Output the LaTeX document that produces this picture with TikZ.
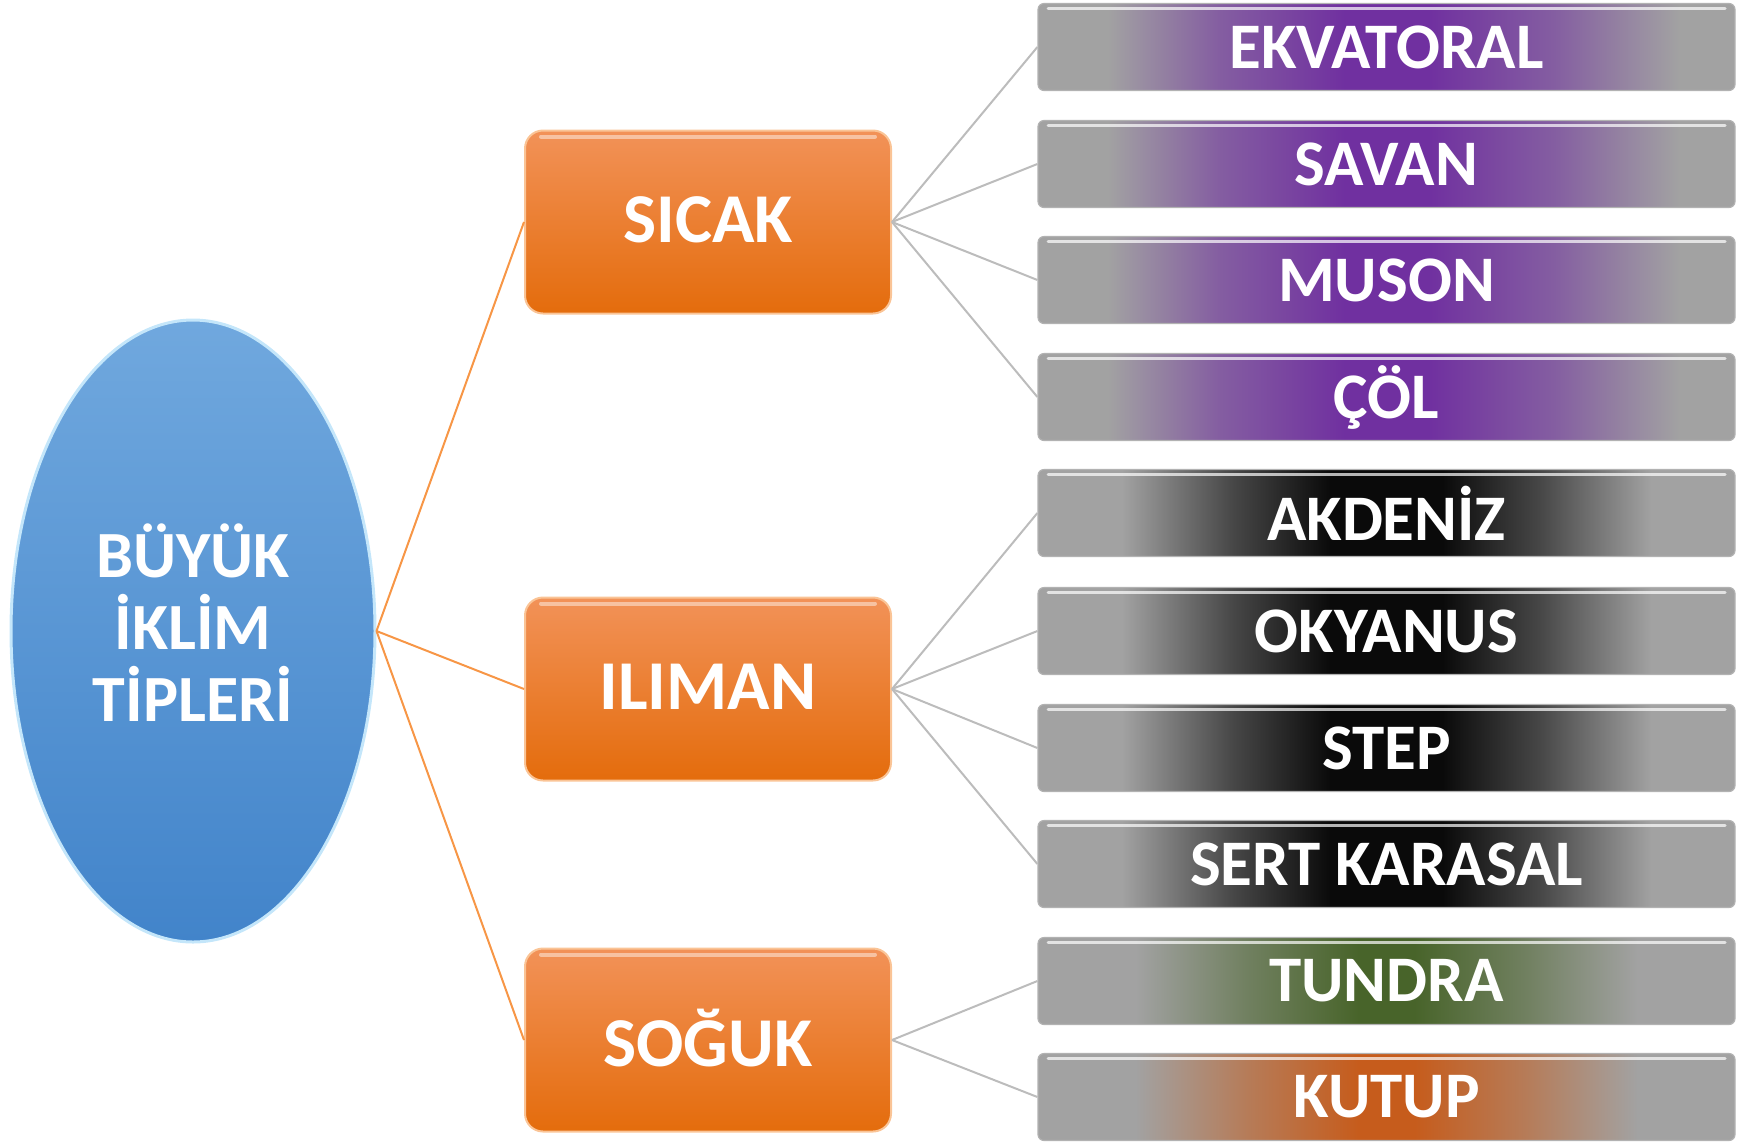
\documentclass[tikz,border=0pt]{standalone}
\usepackage{fontspec}
\setmainfont{Carlito}
\usetikzlibrary{shapes.geometric}

\definecolor{bargray}{RGB}{162,162,162}
\definecolor{hotpurple}{RGB}{112,48,160}
\definecolor{mildblack}{RGB}{10,10,10}
\definecolor{coldgreen}{RGB}{72,100,42}
\definecolor{polarorange}{RGB}{198,92,28}
\definecolor{boxtop}{RGB}{242,146,88}
\definecolor{boxbottom}{RGB}{228,108,12}
\definecolor{boxedge}{RGB}{250,196,150}
\definecolor{ovaltop}{RGB}{112,168,222}
\definecolor{ovalbottom}{RGB}{66,132,202}
\definecolor{ovaledge}{RGB}{196,230,250}
\definecolor{linkorange}{RGB}{247,150,70}
\definecolor{linkgray}{RGB}{188,188,188}

% bar shadings, grey at the ends and coloured in the middle
\colorlet{purplemix}{hotpurple!60!bargray}
\colorlet{blackmix}{mildblack!60!bargray}
\colorlet{greenmix}{coldgreen!55!bargray}
\colorlet{orangemix}{polarorange!55!bargray}
\pgfdeclarehorizontalshading{purplebar}{100bp}{color(0bp)=(bargray); color(30bp)=(bargray); color(38bp)=(purplemix); color(47bp)=(hotpurple); color(53bp)=(hotpurple); color(62bp)=(purplemix); color(71bp)=(bargray); color(100bp)=(bargray)}
\pgfdeclarehorizontalshading{blackbar}{100bp}{color(0bp)=(bargray); color(31bp)=(bargray); color(39bp)=(blackmix); color(46bp)=(mildblack); color(54bp)=(mildblack); color(61bp)=(blackmix); color(69bp)=(bargray); color(100bp)=(bargray)}
\pgfdeclarehorizontalshading{greenbar}{100bp}{color(0bp)=(bargray); color(32bp)=(bargray); color(40bp)=(greenmix); color(48bp)=(coldgreen); color(52bp)=(coldgreen); color(60bp)=(greenmix); color(68bp)=(bargray); color(100bp)=(bargray)}
\pgfdeclarehorizontalshading{orangebar}{100bp}{color(0bp)=(bargray); color(32bp)=(bargray); color(40bp)=(orangemix); color(48bp)=(polarorange); color(52bp)=(polarorange); color(60bp)=(orangemix); color(68bp)=(bargray); color(100bp)=(bargray)}

\begin{document}
\begin{tikzpicture}[x=0.5pt, y=-0.5pt,
  mainoval/.style = {ellipse, draw=ovaledge, line width=1.5pt, top color=ovaltop, bottom color=ovalbottom,
    minimum width=182pt, minimum height=311pt, inner sep=0pt, text=white, align=center, text depth=8pt,
    font=\bfseries\fontsize{33pt}{36pt}\selectfont},
  groupbox/.style = {rectangle, rounded corners=9pt, draw=boxedge, line width=1pt, top color=boxtop, bottom color=boxbottom,
    minimum width=183pt, minimum height=91.5pt, inner sep=0pt, text=white, text depth=2pt,
    font=\bfseries\fontsize{35pt}{40pt}\selectfont,
    path picture={\draw[white, line width=2pt, opacity=.45, line cap=round]
      ([xshift=8pt,yshift=-3pt]path picture bounding box.north west) -- ([xshift=-8pt,yshift=-3pt]path picture bounding box.north east);}},
  typebar/.style = {rectangle, rounded corners=3pt, draw=gray!60, line width=0.6pt, shade, shading=#1,
    minimum width=348.5pt, minimum height=43.5pt, inner sep=0pt, text=white,
    font=\bfseries\fontsize{32.5pt}{38pt}\selectfont,
    path picture={\draw[white, line width=1.5pt, opacity=.7, line cap=round]
      ([xshift=5pt,yshift=-2.5pt]path picture bounding box.north west) -- ([xshift=-5pt,yshift=-2.5pt]path picture bounding box.north east);}},
  orangelink/.style = {draw=linkorange, line width=1pt},
  graylink/.style = {draw=linkgray, line width=1pt}]
\pgfmathsetmacro{\boxx}{708} % centre of the orange boxes
\pgfmathsetmacro{\barx}{1386.5} % centre of the bars
\useasboundingbox (0,0) rectangle (1750,1142);

\node[mainoval] (climate) at (193,631) {BÜYÜK\\İKLİM\\TİPLERİ};

\node[groupbox] (hot) at (\boxx,222) {SICAK};
\node[groupbox] (mild) at (\boxx,689) {ILIMAN};
\node[groupbox] (cold) at (\boxx,1040) {SOĞUK};

\node[typebar=purplebar] (equatorial) at (\barx,47) {EKVATORAL};
\node[typebar=purplebar] (savanna) at (\barx,164) {SAVAN};
\node[typebar=purplebar] (monsoon) at (\barx,280) {MUSON};
\node[typebar=purplebar] (desert) at (\barx,397) {ÇÖL};
\node[typebar=blackbar] (mediterranean) at (\barx,513) {AKDENİZ};
\node[typebar=blackbar] (oceanic) at (\barx,631) {OKYANUS};
\node[typebar=blackbar] (steppe) at (\barx,748) {STEP};
\node[typebar=blackbar] (continental) at (\barx,864) {SERT KARASAL};
\node[typebar=greenbar] (tundra) at (\barx,981) {TUNDRA};
\node[typebar=orangebar] (polar) at (\barx,1097) {KUTUP};

\draw[orangelink] (climate.east) -- (hot.west);
\draw[orangelink] (climate.east) -- (mild.west);
\draw[orangelink] (climate.east) -- (cold.west);

\draw[graylink] (hot.east) -- (equatorial.west);
\draw[graylink] (hot.east) -- (savanna.west);
\draw[graylink] (hot.east) -- (monsoon.west);
\draw[graylink] (hot.east) -- (desert.west);
\draw[graylink] (mild.east) -- (mediterranean.west);
\draw[graylink] (mild.east) -- (oceanic.west);
\draw[graylink] (mild.east) -- (steppe.west);
\draw[graylink] (mild.east) -- (continental.west);
\draw[graylink] (cold.east) -- (tundra.west);
\draw[graylink] (cold.east) -- (polar.west);

\end{tikzpicture}
\end{document}
